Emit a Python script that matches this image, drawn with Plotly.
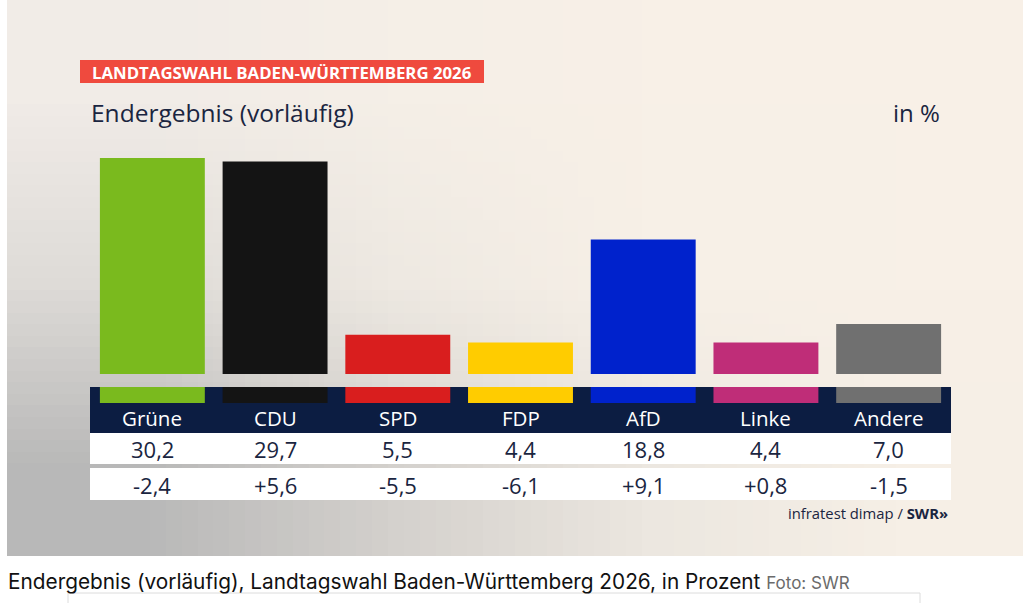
import base64
import struct
import zlib

import plotly.graph_objects as go

parties = ['Grüne', 'CDU', 'SPD', 'FDP', 'AfD', 'Linke', 'Andere']
results = [30.2, 29.7, 5.5, 4.4, 18.8, 4.4, 7.0]
changes = [-2.4, 5.6, -5.5, -6.1, 9.1, 0.8, -1.5]
party_colors = ['#7aba1e', '#141414', '#d91e1e', '#ffcc00', '#0022cc', '#bf2d78', '#707070']

header = 'LANDTAGSWAHL BADEN-WÜRTTEMBERG 2026'
subtitle = 'Endergebnis (vorläufig)'
unit = 'in %'
source = 'infratest dimap / <b>SWR»</b>'
caption = 'Endergebnis (vorläufig), Landtagswahl Baden-Württemberg 2026, in Prozent'
credit = 'Foto: SWR'

W, H = 1023, 603
NAVY = '#0c1d42'
INK = '#1a2540'
FONT = 'Open Sans'


def py(p):
    # pixel row (from top) -> paper y
    return (H - p) / H


def px(p):
    return p / W


def de(v, sign=False):
    s = f'{v:+.1f}' if sign else f'{v:.1f}'
    return s.replace('.', ',')


def png_uri(rows):
    # tiny png, stretched by the browser into a soft background gradient
    raw = b''.join(b'\x00' + bytes(c for pix in row for c in pix) for row in rows)

    def chunk(tag, data):
        return (struct.pack('>I', len(data)) + tag + data
                + struct.pack('>I', zlib.crc32(tag + data) & 0xffffffff))

    h, w = len(rows), len(rows[0])
    png = (b'\x89PNG\r\n\x1a\n'
           + chunk(b'IHDR', struct.pack('>IIBBBBB', w, h, 8, 2, 0, 0, 0))
           + chunk(b'IDAT', zlib.compress(raw))
           + chunk(b'IEND', b''))
    return 'data:image/png;base64,' + base64.b64encode(png).decode()


bg_rows = [
    [(241, 236, 231), (245, 239, 231), (248, 240, 231), (248, 240, 231)],
    [(222, 219, 215), (238, 233, 226), (247, 240, 231), (248, 240, 231)],
    [(184, 184, 184), (212, 209, 205), (236, 231, 224), (246, 239, 230)],
]

fig = go.Figure()

fig.add_trace(go.Bar(
    x=parties, y=results,
    marker=dict(color=party_colors, line=dict(width=0)),
    hoverinfo='skip', showlegend=False,
))

# colour strips inside the navy label band
fig.add_trace(go.Bar(
    x=parties, y=[1] * len(parties), yaxis='y2',
    marker=dict(color=party_colors, line=dict(width=0)),
    hoverinfo='skip', showlegend=False,
))

shapes = [
    dict(type='rect', xref='paper', yref='paper', x0=px(80), x1=px(484),
         y0=py(83), y1=py(60), fillcolor='#ef4a3e', line=dict(width=0), layer='below'),
    dict(type='rect', xref='paper', yref='paper', x0=px(90), x1=px(951),
         y0=py(433), y1=py(387), fillcolor=NAVY, line=dict(width=0), layer='below'),
    dict(type='rect', xref='paper', yref='paper', x0=px(90), x1=px(951),
         y0=py(464), y1=py(433), fillcolor='white', line=dict(width=0), layer='below'),
    dict(type='rect', xref='paper', yref='paper', x0=px(90), x1=px(951),
         y0=py(500), y1=py(468), fillcolor='white', line=dict(width=0), layer='below'),
    dict(type='rect', xref='paper', yref='paper', x0=px(68), x1=px(920),
         y0=py(615), y1=py(593), fillcolor='white', line=dict(color='#dcdcdc', width=1),
         layer='below'),
]


def note(text, x, y, size, color, xanchor='center', xref='paper', family=FONT, **kw):
    return dict(text=text, xref=xref, yref='paper', x=x, y=py(y),
                xanchor=xanchor, yanchor='middle', showarrow=False,
                font=dict(family=family, size=size, color=color, **kw))


annotations = [
    note(header, px(282), 72, 16.8, 'white', weight='bold'),
    note(subtitle, px(89), 112, 24.5, INK, xanchor='left'),
    note(unit, px(942), 112, 24, INK, xanchor='right'),
    note(source, px(950), 513, 14.8, INK, xanchor='right'),
    note(f'{caption} <span style="font-size:17px;color:#6b6b6b">{credit}</span>',
         px(6), 581, 20.8, '#111111', xanchor='left', family='Inter'),
]

for name, val, chg in zip(parties, results, changes):
    annotations.append(note(name, name, 418, 20.5, 'white', xref='x'))
    annotations.append(note(de(val), name, 449, 22, INK, xref='x'))
    annotations.append(note(de(chg, sign=True), name, 485, 22, INK, xref='x'))

fig.update_layout(
    width=W, height=H,
    margin=dict(l=0, r=0, t=0, b=0),
    paper_bgcolor='white',
    plot_bgcolor='rgba(0,0,0,0)',
    bargap=0.145,
    barmode='overlay',
    xaxis=dict(domain=[px(91), px(950)], range=[-0.5, 6.5], visible=False, fixedrange=True),
    yaxis=dict(domain=[py(374), py(145)], range=[0, 32], visible=False, fixedrange=True),
    yaxis2=dict(domain=[py(403), py(387)], range=[0, 1], visible=False, fixedrange=True,
                anchor='x'),
    shapes=shapes,
    annotations=annotations,
    images=[dict(source=png_uri(bg_rows), xref='paper', yref='paper',
                 x=px(7), y=1, sizex=px(W - 7), sizey=556 / H,
                 xanchor='left', yanchor='top', sizing='stretch', layer='below')],
)

fig.write_html('out.html', config={'displayModeBar': False},
               post_script='document.body.style.margin = "0";')
